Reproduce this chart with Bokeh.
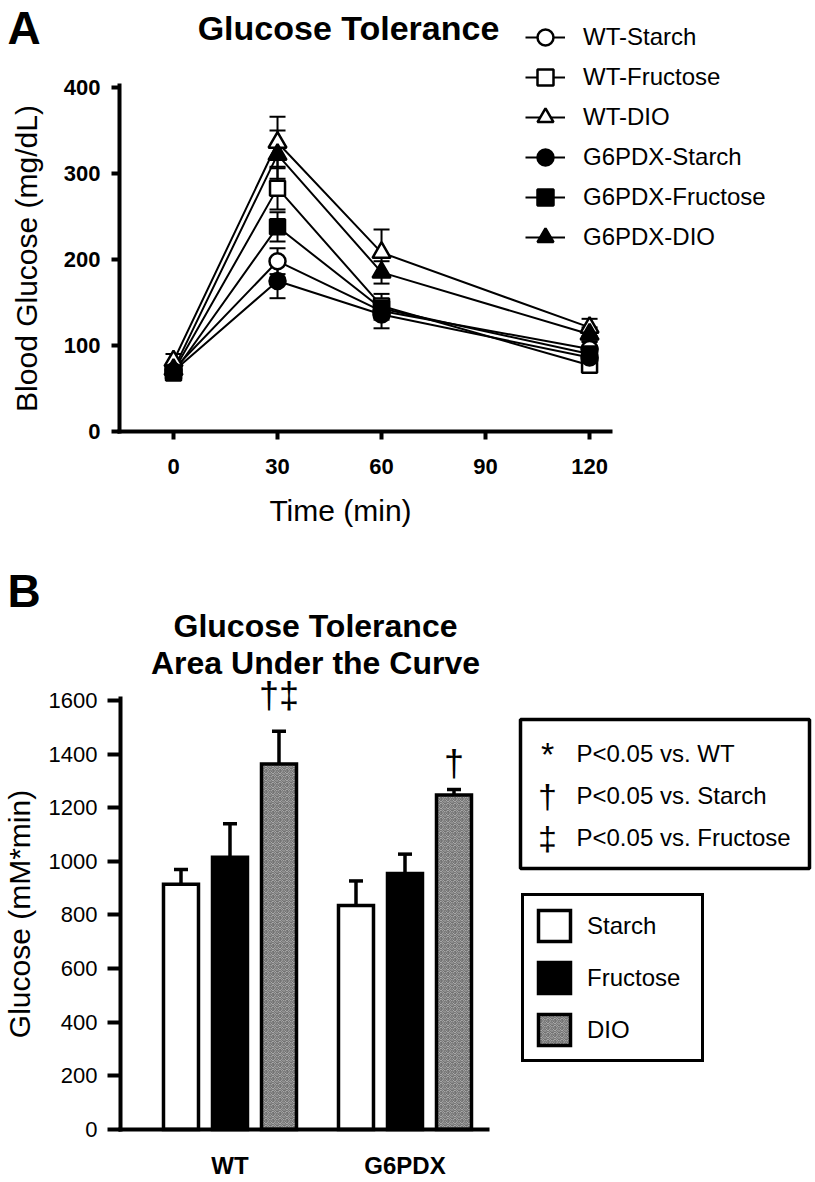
from bokeh.plotting import figure
from bokeh.layouts import column
from bokeh.models import (ColumnDataSource, Whisker, TeeHead, Legend, LegendItem, Label,
                          BoxAnnotation, FixedTicker, Range1d, LinearAxis)
from bokeh.embed import file_html
from bokeh.resources import INLINE

FONT = "Liberation Sans"

# ---------------- Panel A data ----------------
times = [0, 30, 60, 120]
time_ticks = [0, 30, 60, 90, 120]
glucose_ticks = [0, 100, 200, 300, 400]
series = ["WT-Starch", "WT-Fructose", "WT-DIO", "G6PDX-Starch", "G6PDX-Fructose", "G6PDX-DIO"]
wt_starch = [72, 198, 140, 96]
wt_starch_sem = [5, 15, 10, 8]
wt_fructose = [70, 283, 146, 77]
wt_fructose_sem = [5, 25, 14, 5]
wt_dio = [82, 336, 208, 121]
wt_dio_sem = [8, 30, 27, 10]
g6_starch = [70, 175, 136, 86]
g6_starch_sem = [5, 20, 16, 7]
g6_fructose = [68, 238, 143, 90]
g6_fructose_sem = [5, 17, 10, 8]
g6_dio = [72, 322, 185, 113]
g6_dio_sem = [5, 28, 13, 8]

means = [wt_starch, wt_fructose, wt_dio, g6_starch, g6_fructose, g6_dio]
sems = [wt_starch_sem, wt_fructose_sem, wt_dio_sem, g6_starch_sem, g6_fructose_sem, g6_dio_sem]
markers = ["circle", "square", "triangle", "circle", "square", "triangle"]
msizes = [16, 15, 18, 16, 15, 18]
fills = ["white", "white", "white", "black", "black", "black"]

# ---------------- Panel B data ----------------
groups = ["WT", "G6PDX"]
diets = ["Starch", "Fructose", "DIO"]
auc_starch = [915, 835]
auc_starch_err = [55, 92]
auc_fructose = [1015, 955]
auc_fructose_err = [125, 72]
auc_dio = [1363, 1248]
auc_dio_err = [122, 20]
auc_ticks = [0, 200, 400, 600, 800, 1000, 1200, 1400, 1600]
sig_marks = ["†‡", "†"]
sig_offsets = [15, 6]
sig_symbols = ["*", "†", "‡"]
sig_texts = ["P<0.05 vs. WT", "P<0.05 vs. Starch", "P<0.05 vs. Fructose"]


def style_axis(ax, bold_ticks, tick_size, label_size, tick_out):
    ax.axis_line_width = 4
    ax.axis_line_cap = "square"
    ax.major_tick_line_width = 4
    ax.major_tick_in = 0
    ax.major_tick_out = tick_out
    ax.minor_tick_line_color = None
    ax.major_label_text_font = FONT
    ax.major_label_text_font_style = "bold" if bold_ticks else "normal"
    ax.major_label_text_font_size = tick_size
    ax.major_label_text_color = "black"
    ax.axis_label_text_font = FONT
    ax.axis_label_text_font_style = "normal"
    ax.axis_label_text_font_size = label_size
    ax.axis_label_text_color = "black"


def lab(p, text, x, y, size, bold=False, align="left", baseline="middle"):
    p.add_layout(Label(x=x, y=y, x_units="screen", y_units="screen", text=text,
                       text_font=FONT, text_font_size=size,
                       text_font_style="bold" if bold else "normal",
                       text_align=align, text_baseline=baseline, text_color="black"))


def bare_fig(w, h, xr, yr):
    p = figure(width=w, height=h, x_range=xr, y_range=yr, title=None,
               x_axis_location=None, y_axis_location=None,
               output_backend="svg", toolbar_location=None, min_border=0)
    p.outline_line_color = None
    p.grid.grid_line_color = None
    return p


W = 812
HA, HB = 564, 616

# ================= Panel A =================
# page mapping: x_page = 173 + 3.4667*t ; y_page = 431 - 0.86*v ; figure spans page y 0..564
A_X0, A_X1 = -15.6, 126.0
A_Y1 = 402.3
pA = bare_fig(W, HA, Range1d(-49.9, 184.3), Range1d(-154.7, 501.2))
xa = LinearAxis(fixed_location=0, bounds=(A_X0, A_X1), ticker=FixedTicker(ticks=time_ticks))
ya = LinearAxis(fixed_location=A_X0, bounds=(0, A_Y1), ticker=FixedTicker(ticks=glucose_ticks),
                axis_label="Blood Glucose (mg/dL)")
style_axis(xa, True, "22px", "30px", 8)
style_axis(ya, True, "22px", "30px", 8)
xa.major_label_standoff = 20
ya.major_label_standoff = 11
ya.axis_label_standoff = 18
pA.add_layout(xa, "below")
pA.add_layout(ya, "left")

sources = []
for i in range(len(series)):
    src = ColumnDataSource(dict(
        t=times, m=means[i],
        lo=[a - b for a, b in zip(means[i], sems[i])],
        hi=[a + b for a, b in zip(means[i], sems[i])]))
    sources.append(src)
    pA.add_layout(Whisker(base="t", upper="hi", lower="lo", source=src, level="underlay",
                          line_color="black", line_width=2,
                          upper_head=TeeHead(size=16, line_width=2, line_color="black"),
                          lower_head=TeeHead(size=16, line_width=2, line_color="black")))

lines = []
for i in range(len(series)):
    lines.append(pA.line("t", "m", source=sources[i], line_color="black", line_width=2))
scatters = []
for i in range(len(series)):
    scatters.append(pA.scatter("t", "m", source=sources[i], marker=markers[i], size=msizes[i],
                               fill_color=fills[i], line_color="black", line_width=2.5))

legA = Legend(items=[LegendItem(label=series[i], renderers=[lines[i], scatters[i]])
                     for i in range(len(series))],
              location=(525, 307), glyph_width=40, glyph_height=40, spacing=0, padding=0,
              margin=0, label_standoff=18, label_text_font=FONT, label_text_font_size="24px",
              label_text_color="black", border_line_color=None, background_fill_alpha=0)
pA.add_layout(legA)

# page -> screen coords for A: x, 564 - y
lab(pA, "A", 7, HA - 27, "46px", bold=True)
lab(pA, "Glucose Tolerance", 348, HA - 27, "34px", bold=True, align="center")
lab(pA, "Time (min)", 340, HA - 510, "30px", align="center")

# ================= Panel B =================
# page mapping: x_page = 229.5 + 175*(x-1) ; y_page = 1129 - 0.268125*v ; figure spans page y 564..1180
B_X0, B_X1 = 0.3743, 2.4714
B_Y1 = 1607.5
offsets = [-0.28, 0.0, 0.28]
pB = bare_fig(W, HB, Range1d(-0.3114, 4.3286), Range1d(-190.2, 2107.2))
xb = LinearAxis(fixed_location=0, bounds=(B_X0, B_X1), ticker=FixedTicker(ticks=[1, 2]),
                major_label_overrides={1: groups[0], 2: groups[1]})
yb = LinearAxis(fixed_location=B_X0, bounds=(0, B_Y1), ticker=FixedTicker(ticks=auc_ticks),
                axis_label="Glucose (mM*min)")
style_axis(xb, True, "24px", "30px", 0)
style_axis(yb, False, "22px", "30px", 13)
xb.major_tick_line_color = None
xb.major_label_standoff = 22
yb.major_label_standoff = 10
yb.axis_label_standoff = 10
pB.add_layout(xb, "below")
pB.add_layout(yb, "left")

vals = [auc_starch, auc_fructose, auc_dio]
errs = [auc_starch_err, auc_fructose_err, auc_dio_err]
bar_styles = [
    dict(fill_color="white"),
    dict(fill_color="black"),
    dict(fill_color="#b8b8b8", hatch_pattern="spiral", hatch_color="#333333",
         hatch_scale=7, hatch_weight=1, hatch_alpha=0.75),
]
bars = []
for j in range(3):
    xs = [g + 1 + offsets[j] for g in range(len(groups))]
    src = ColumnDataSource(dict(x=xs, top=vals[j],
                                up=[a + b for a, b in zip(vals[j], errs[j])]))
    pB.add_layout(Whisker(base="x", upper="up", lower="top", source=src, level="underlay",
                          line_color="black", line_width=3.5,
                          upper_head=TeeHead(size=14, line_width=3.5, line_color="black"),
                          lower_head=None))
    bars.append(pB.vbar(x="x", top="top", bottom=0, width=0.2, source=src,
                        line_color="black", line_width=3.5, line_join="miter", **bar_styles[j]))

# significance marks above DIO bars
for g in range(len(groups)):
    pB.add_layout(Label(x=g + 1 + offsets[2], y=auc_dio[g] + auc_dio_err[g], y_offset=sig_offsets[g],
                        text=sig_marks[g], text_font=FONT, text_font_size="36px",
                        text_align="center", text_baseline="bottom", text_color="black"))

legB = Legend(items=[LegendItem(label=diets[j], renderers=[bars[j]]) for j in range(3)],
              location=(521, HB - (1062 - 564)), glyph_width=40, glyph_height=39, spacing=13,
              padding=10, margin=0, label_standoff=13, label_width=104, label_text_font=FONT,
              label_text_font_size="24px", label_text_color="black",
              border_line_color="black", border_line_width=3.5, border_line_alpha=1,
              background_fill_color="white", background_fill_alpha=1)
pB.add_layout(legB)

# significance key box (page 520..809 x 719..868) -> screen: x, 1180 - y
def by(py):
    return HB - (py - HA)

pB.add_layout(BoxAnnotation(left=520, right=809, top=by(719), bottom=by(868),
                            left_units="screen", right_units="screen", top_units="screen",
                            bottom_units="screen", fill_alpha=0, line_color="black",
                            line_alpha=1, line_width=3.5))
sig_rows_y = [753, 795, 837]
for k in range(3):
    lab(pB, sig_symbols[k], 547, by(sig_rows_y[k]), "34px", align="center")
    lab(pB, sig_texts[k], 576, by(sig_rows_y[k]), "24px")

lab(pB, "B", 7, by(590), "46px", bold=True)
lab(pB, "Glucose Tolerance", 315, by(625), "32px", bold=True, align="center")
lab(pB, "Area Under the Curve", 315, by(662), "32px", bold=True, align="center")

layout = column(pA, pB, spacing=0)
open("out.html", "w").write(file_html(layout, INLINE))
